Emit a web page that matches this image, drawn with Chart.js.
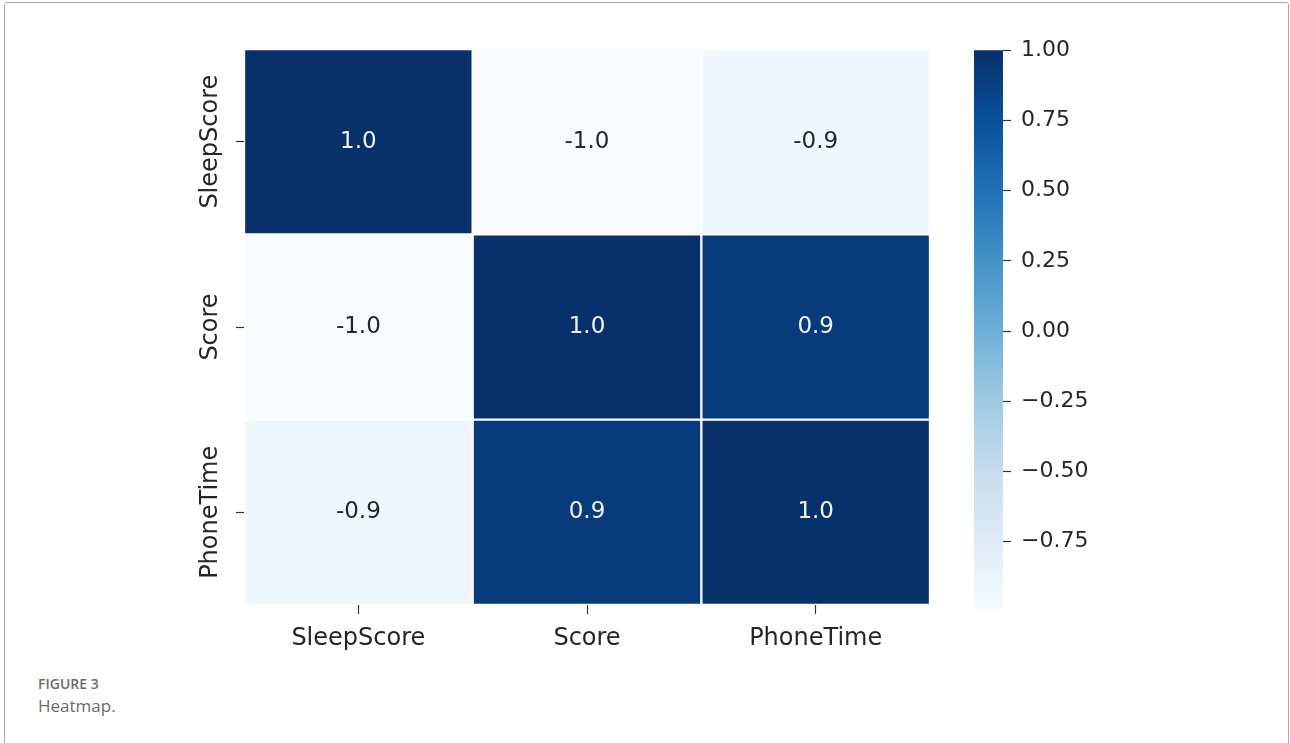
<!DOCTYPE html>
<html>
<head>
<meta charset="utf-8">
<script src="https://cdn.jsdelivr.net/npm/chart.js@4.4.1/dist/chart.umd.min.js"></script>
<style>
  html, body { margin: 0; padding: 0; background: #fff; }
  body { width: 1290px; height: 743px; position: relative; overflow: hidden; }
  #frame { position: absolute; left: 4px; top: 2px; width: 1283px; height: 780px;
           border: 1px solid #a8a8a8; border-radius: 3px; }
  #heat { position: absolute; left: 130px; top: 30px; }
  #cbar { position: absolute; left: 960px; top: 27px; }
  .cap1 { position: absolute; left: 38px; top: 674px; font: 600 14px "Open Sans", sans-serif; color: #6b6b6b; }
  .cap2 { position: absolute; left: 38px; top: 694px; font: 400 17px "Open Sans", sans-serif; color: #6b6b6b; }
</style>
</head>
<body>
<div id="frame"></div>
<canvas id="heat" width="810" height="650"></canvas>
<canvas id="cbar" width="180" height="620"></canvas>
<div class="cap1">FIGURE 3</div>
<div class="cap2">Heatmap.</div>
<script>
// ---- data ----
const LABELS = ['SleepScore', 'Score', 'PhoneTime'];
const ROW_SLEEP = [1.0, -0.99, -0.92];
const ROW_SCORE = [-0.99, 1.0, 0.92];
const ROW_PHONE = [-0.92, 0.92, 1.0];
const ROWS = [ROW_SLEEP, ROW_SCORE, ROW_PHONE];
const CB_TICKS = [-0.75, -0.5, -0.25, 0, 0.25, 0.5, 0.75, 1.0];
const CB_MIN = -0.99, CB_MAX = 1.0;

// matplotlib "Blues"
const BLUES = ['#f7fbff', '#deebf7', '#c6dbef', '#9ecae1', '#6baed6', '#4292c6', '#2171b5', '#08519c', '#08306b'];
const hex = (h) => [1, 3, 5].map(i => parseInt(h.slice(i, i + 2), 16));
function blues(t) {
  t = Math.max(0, Math.min(1, t));
  const p = t * (BLUES.length - 1), i = Math.min(Math.floor(p), BLUES.length - 2), f = p - i;
  const a = hex(BLUES[i]), b = hex(BLUES[i + 1]);
  return 'rgb(' + a.map((v, k) => Math.round(v + (b[k] - v) * f)).join(',') + ')';
}
const colorFor = (v) => blues((v - CB_MIN) / (CB_MAX - CB_MIN));

const FONT = 'DejaVu Sans';
const INK = '#262626';

/* -------------------- cell annotations -------------------- */
const cellText = {
  id: 'cellText',
  afterDatasetsDraw(chart) {
    const ctx = chart.ctx;
    ctx.save();
    ctx.font = '23px "' + FONT + '"';
    ctx.textAlign = 'center';
    ctx.textBaseline = 'middle';
    chart.data.datasets.forEach((ds, di) => {
      chart.getDatasetMeta(di).data.forEach((bar, i) => {
        const v = ds.values[i];
        ctx.fillStyle = v > 0 ? '#f2f2f2' : INK;
        ctx.fillText(v.toFixed(1), bar.x, (bar.y + bar.base) / 2);
      });
    });
    ctx.restore();
  }
};

/* -------------------- heatmap (floating bars, one dataset per row) -------------------- */
new Chart(document.getElementById('heat'), {
  type: 'bar',
  data: {
    labels: LABELS,
    datasets: ROWS.map((vals, r) => ({
      data: LABELS.map(() => [r - 0.5, r + 0.5]),
      values: vals,
      backgroundColor: vals.map(colorFor),
      borderColor: '#ffffff',
      borderWidth: 1.5,
      borderSkipped: false,
      grouped: false,
      barPercentage: 1,
      categoryPercentage: 1
    }))
  },
  options: {
    responsive: false, animation: false, devicePixelRatio: 1,
    layout: { padding: { top: 19, right: 10 } },
    plugins: { legend: { display: false }, tooltip: { enabled: false } },
    scales: {
      x: {
        grid: { drawOnChartArea: false, offset: false, tickLength: 9, tickWidth: 1.2, tickColor: '#333' },
        border: { display: false },
        ticks: { color: INK, font: { family: FONT, size: 24 }, padding: 10, maxRotation: 0 },
        afterFit: (s) => { s.height = 75; }
      },
      y: {
        type: 'linear', min: -0.5, max: 2.5, reverse: true,
        afterBuildTicks: (s) => { s.ticks = LABELS.map((_, i) => ({ value: i })); },
        grid: { drawOnChartArea: false, tickLength: 8, tickWidth: 1.2, tickColor: '#333' },
        border: { display: false },
        ticks: {
          color: INK, font: { family: FONT, size: 24 },
          callback: (v) => LABELS[v],
          minRotation: 90, maxRotation: 90, crossAlign: 'center', padding: -42
        },
        afterFit: (s) => { s.width = 114; }
      }
    }
  },
  plugins: [cellText]
});

/* -------------------- colorbar -------------------- */
function cbGradient(ctx) {
  const area = ctx.chart.chartArea;
  if (!area) return BLUES[4];
  const g = ctx.chart.ctx.createLinearGradient(0, area.bottom, 0, area.top);
  BLUES.forEach((c, i) => g.addColorStop(i / (BLUES.length - 1), c));
  return g;
}

new Chart(document.getElementById('cbar'), {
  type: 'bar',
  data: {
    labels: ['cb'],
    datasets: [{ data: [[CB_MIN, CB_MAX]], backgroundColor: cbGradient, borderWidth: 0, barPercentage: 1, categoryPercentage: 1 }]
  },
  options: {
    responsive: false, animation: false, devicePixelRatio: 1,
    layout: { padding: { left: 14, top: 15, bottom: 38 } },
    plugins: { legend: { display: false }, tooltip: { enabled: false } },
    scales: {
      x: { display: false },
      y: {
        position: 'right', min: CB_MIN, max: CB_MAX,
        afterBuildTicks: (s) => { s.ticks = CB_TICKS.map(v => ({ value: v })); },
        grid: { drawOnChartArea: false, tickLength: 8, tickWidth: 1.2, tickColor: '#333' },
        border: { display: false },
        ticks: {
          color: INK, font: { family: FONT, size: 22 }, padding: 10,
          callback: (v) => (v < 0 ? '\u2212' : '') + Math.abs(v).toFixed(2)
        },
        afterFit: (s) => { s.width = 137; }
      }
    }
  }
});
</script>
</body>
</html>
